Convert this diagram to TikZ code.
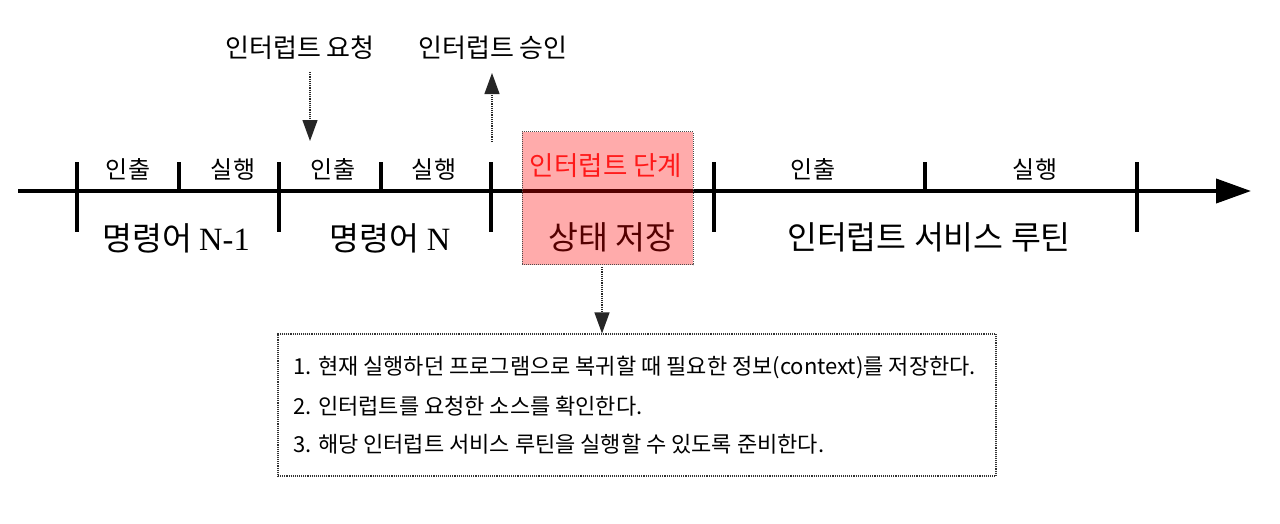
\documentclass[tikz,border=0pt]{standalone}
\usepackage{fontspec}
\setmainfont{Noto Sans CJK KR}
\newfontfamily\serifN{Liberation Serif}
\usetikzlibrary{arrows.meta}
\begin{document}
\begin{tikzpicture}[x=1pt,y=-1pt,
  lbl/.style={inner sep=0pt,font=\fontsize{24}{24}\selectfont},
  big/.style={inner sep=0pt,font=\fontsize{32.5}{32.5}\selectfont},
  tick/.style={line width=4pt},
  dotline/.style={line width=1.2pt,densely dotted,black!85},
  tip/.style={-{Triangle[length=21pt,width=15pt]}},
  stepbox/.style={draw=black!70,densely dotted,line width=1pt,fill=red,fill opacity=0.33,draw opacity=1,minimum width=171pt,minimum height=133pt,inner sep=0pt},
  infobox/.style={draw=black!80,densely dotted,line width=1.1pt,minimum width=718pt,minimum height=142pt,inner sep=0pt},
  infotext/.style={anchor=west,inner sep=0pt,font=\fontsize{22}{22}\selectfont}
]
\useasboundingbox (0,0) rectangle (1280,523);
% axis
\coordinate (s) at (18,191);
\coordinate (e) at (1251,191);
\draw[line width=4pt,-{Triangle[length=35pt,width=24pt]}] (s) -- (e);
% long ticks
\foreach \x in {77,279,491,714,1137}{\draw[tick] (\x,162) -- (\x,232);}
% short ticks
\foreach \x in {179,381,925}{\draw[tick] (\x,162) -- (\x,191);}
% top labels
\node[lbl] (f1) at (128,169) {인출};
\node[lbl] (x1) at (233,169) {실행};
\node[lbl] (f2) at (333,169) {인출};
\node[lbl] (x2) at (434,169) {실행};
\node[lbl] (f3) at (813,169) {인출};
\node[lbl] (x3) at (1035,169) {실행};
% bottom labels
\node[big] (n1) at (176,238) {명령어 {\serifN N-1}};
\node[big] (n2) at (390,238) {명령어 {\serifN N}};
\node[big] (isr) at (929,237) {인터럽트 서비스 루틴};
\node[big] (save) at (612,237) {상태 저장};
% interrupt request / ack
\node[lbl,font=\fontsize{26}{26}\selectfont] (req) at (300,48) {인터럽트 요청};
\node[lbl,font=\fontsize{26}{26}\selectfont] (ack) at (493,48) {인터럽트 승인};
\coordinate (reqA) at (310,72);
\coordinate (reqB) at (310,141);
\draw[dotline,tip] (reqA) -- (reqB);
\coordinate (ackA) at (492,142);
\coordinate (ackB) at (492,73);
\draw[dotline,tip] (ackA) -- (ackB);
% state box overlay
\node[stepbox] (st) at (607.5,198) {};
\node[lbl,font=\fontsize{26.5}{26.5}\selectfont,text=red!90!white] (stt) at (606,166) {인터럽트 단계};
% info box
\node[infobox] (info) at (637,405) {};
\node[infotext] (l1) at (293,367) {1. 현재 실행하던 프로그램으로 복귀할 때 필요한 정보(context)를 저장한다.};
\node[infotext] (l2) at (293,406) {2. 인터럽트를 요청한 소스를 확인한다.};
\node[infotext] (l3) at (293,444) {3. 해당 인터럽트 서비스 루틴을 실행할 수 있도록 준비한다.};
\coordinate (stB) at (602,267);
\draw[dotline,tip] (stB) -- (info.north -| stB);
\end{tikzpicture}
\end{document}
